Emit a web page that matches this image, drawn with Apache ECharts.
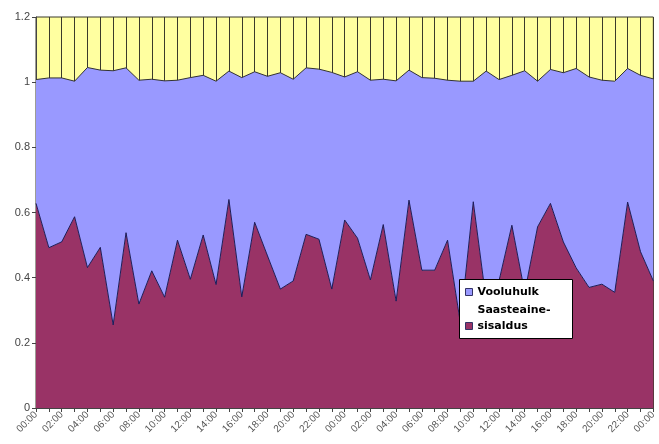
<!DOCTYPE html>
<html>
<head>
<meta charset="utf-8">
<script src="https://cdn.jsdelivr.net/npm/echarts@6/dist/echarts.min.js"></script>
<style>
  html, body { margin: 0; padding: 0; background: #fff; }
  #chart { width: 659px; height: 444px; }
</style>
</head>
<body>
<div id="chart"></div>
<script>
// Hourly time stamps over two days
const hours = [
  "00:00","01:00","02:00","03:00","04:00","05:00","06:00","07:00","08:00","09:00","10:00","11:00",
  "12:00","13:00","14:00","15:00","16:00","17:00","18:00","19:00","20:00","21:00","22:00","23:00",
  "00:00","01:00","02:00","03:00","04:00","05:00","06:00","07:00","08:00","09:00","10:00","11:00",
  "12:00","13:00","14:00","15:00","16:00","17:00","18:00","19:00","20:00","21:00","22:00","23:00",
  "00:00"
];

// Pollutant content (bottom layer)
const saasteaine = [
  0.628, 0.492, 0.510, 0.587, 0.431, 0.493, 0.255, 0.538, 0.319, 0.421, 0.340, 0.515,
  0.395, 0.531, 0.379, 0.640, 0.341, 0.570, 0.467, 0.365, 0.390, 0.533, 0.518, 0.365,
  0.577, 0.521, 0.393, 0.563, 0.328, 0.638, 0.423, 0.423, 0.515, 0.260, 0.633, 0.330,
  0.390, 0.561, 0.355, 0.556, 0.628, 0.510, 0.430, 0.370, 0.380, 0.355, 0.632, 0.480,
  0.390
];

// Flow rate (stacked on top)
const vooluhulk = [
  0.380, 0.521, 0.503, 0.416, 0.614, 0.544, 0.780, 0.506, 0.687, 0.588, 0.664, 0.491,
  0.619, 0.490, 0.624, 0.394, 0.673, 0.462, 0.551, 0.664, 0.619, 0.511, 0.522, 0.665,
  0.439, 0.511, 0.613, 0.446, 0.676, 0.399, 0.591, 0.589, 0.491, 0.743, 0.370, 0.704,
  0.618, 0.460, 0.680, 0.447, 0.411, 0.519, 0.612, 0.646, 0.626, 0.648, 0.410, 0.541,
  0.620
];

const yTicks = { min: 0, max: 1.2, step: 0.2 };

// Legend swatches: a 7px square inside a 7x23 frame, centred for a
// one-line label and dropped to the last line for a two-line label.
const swatchMiddle = 'path://M0,0L0,0M0,8L7,8L7,15L0,15ZM7,23L7,23';
const swatchBottom = 'path://M0,0L0,0M0,16L7,16L7,23L0,23Z';

const chart = echarts.init(document.getElementById('chart'), null, { renderer: 'canvas' });

chart.setOption({
  animation: false,
  backgroundColor: '#ffffff',
  grid: {
    left: 36, top: 17, width: 626, height: 391,
    show: true,
    backgroundColor: '#FFFFA0',
    borderColor: '#3a3a2a',
    borderWidth: 1
  },
  // white framed box behind the legend entries
  graphic: {
    z: 50,
    elements: [{
      type: 'rect',
      z: 50,
      silent: true,
      shape: { x: 459.5, y: 279.5, width: 113, height: 59 },
      style: { fill: '#ffffff', stroke: '#000000', lineWidth: 1 }
    }]
  },
  legend: {
    orient: 'vertical',
    left: 465, top: 280,
    z: 60,
    padding: 0,
    itemGap: -2,
    itemWidth: 7,
    itemHeight: 23,
    itemStyle: { borderColor: '#333366', borderWidth: 1 },
    data: [
      { name: 'Vooluhulk', icon: swatchMiddle },
      { name: 'Saasteaine-sisaldus', icon: swatchBottom }
    ],
    formatter: function (name) {
      return name === 'Saasteaine-sisaldus' ? 'Saasteaine-\nsisaldus' : name;
    },
    textStyle: {
      fontFamily: 'DejaVu Sans',
      fontWeight: 'bold',
      fontSize: 11,
      color: '#000000',
      lineHeight: 16
    }
  },
  xAxis: {
    type: 'category',
    data: hours,
    boundaryGap: false,
    axisLine: { show: true, lineStyle: { color: '#444', width: 1 } },
    axisTick: { show: true, interval: 0, length: 4, lineStyle: { color: '#444' } },
    axisLabel: {
      interval: 1,
      rotate: 45,
      fontSize: 10,
      fontFamily: 'Liberation Sans',
      color: '#555',
      margin: 5
    },
    splitLine: { show: true, interval: 0, lineStyle: { color: '#3a3a2a', width: 1 } }
  },
  yAxis: {
    type: 'value',
    min: yTicks.min,
    max: yTicks.max,
    interval: yTicks.step,
    axisLine: { show: true, lineStyle: { color: '#444', width: 1 } },
    axisTick: { show: true, length: 4, lineStyle: { color: '#444' } },
    axisLabel: {
      fontSize: 11,
      fontFamily: 'Liberation Sans',
      color: '#444',
      margin: 6
    },
    splitLine: { show: false }
  },
  series: [
    {
      name: 'Saasteaine-sisaldus',
      type: 'line',
      stack: 'total',
      data: saasteaine,
      showSymbol: false,
      symbol: 'none',
      itemStyle: { color: '#993366' },
      lineStyle: { color: '#1c1c5a', width: 1 },
      areaStyle: { color: '#993366', opacity: 1 }
    },
    {
      name: 'Vooluhulk',
      type: 'line',
      stack: 'total',
      data: vooluhulk,
      showSymbol: false,
      symbol: 'none',
      itemStyle: { color: '#9999FF' },
      lineStyle: { color: '#333333', width: 1 },
      areaStyle: { color: '#9999FF', opacity: 1 }
    }
  ]
});
</script>
</body>
</html>
